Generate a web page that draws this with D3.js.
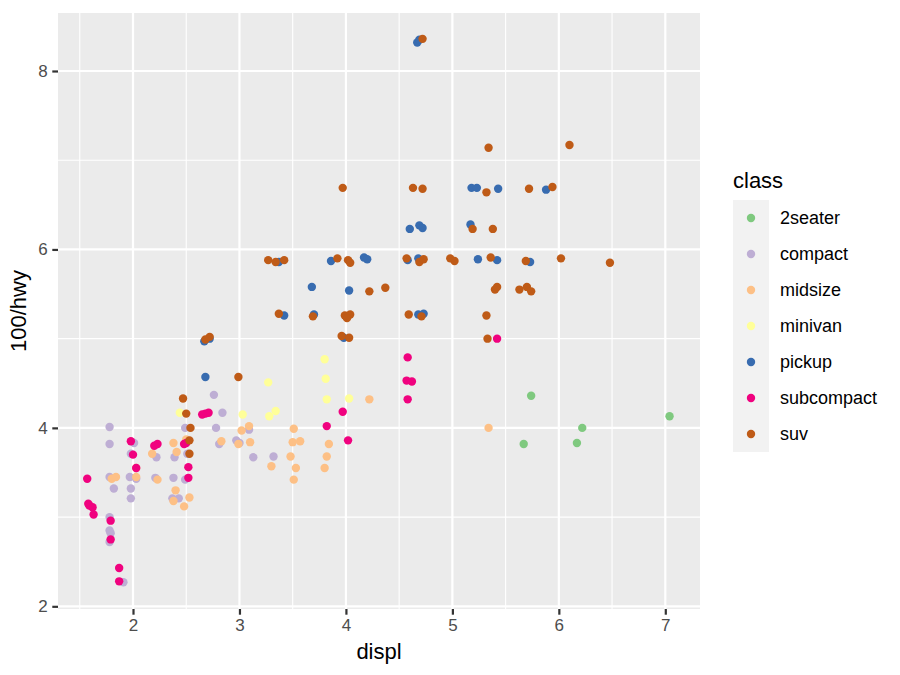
<!DOCTYPE html>
<html>
<head>
<meta charset="utf-8">
<script src="https://cdn.jsdelivr.net/npm/d3@7"></script>
<style>
  body { margin: 0; background: #fff; }
  text { font-family: "Liberation Sans", Arial, Helvetica, sans-serif; }
</style>
</head>
<body>
<svg id="chart" width="900" height="675"></svg>
<script>
// ---- data ----
const classes = ["2seater", "compact", "midsize", "minivan", "pickup", "subcompact", "suv"];
const colors = ["#7FC97F", "#BEAED4", "#FDC086", "#FFFF99", "#386CB0", "#F0027F", "#BF5B17"];

const displ_2seater = [5.74, 5.67, 6.22, 6.17, 7.04];
const y_2seater     = [4.36, 3.82, 4.00, 3.83, 4.13];

const displ_compact = [1.78,1.78,2.01,1.98,2.22,2.39,2.51,2.49,1.78,1.82,1.97,2.03,1.98,1.98,2.21,2.38,2.49,2.37,2.43,1.78,1.78,1.79,1.78,1.91,2.76,2.84,2.78,3.09,2.81,2.97,3.00,3.13,3.32];
const y_compact     = [4.01,3.82,3.83,3.71,3.67,3.67,3.71,4.00,3.45,3.32,3.45,3.43,3.32,3.21,3.44,3.44,3.42,3.21,3.21,3.00,2.85,2.82,2.72,2.27,4.37,4.17,4.00,3.98,3.82,3.86,3.83,3.67,3.68];

const displ_midsize = [2.38,2.18,2.41,2.50,1.80,1.84,2.03,2.03,2.23,2.40,2.38,2.53,2.48,3.02,3.09,2.83,2.99,3.10,3.30,3.51,3.50,3.57,3.48,3.53,3.51,3.84,3.82,3.80,4.22,5.34];
const y_midsize     = [3.83,3.71,3.73,3.87,3.43,3.45,3.55,3.45,3.42,3.30,3.18,3.22,3.12,3.97,4.02,3.85,3.82,3.84,3.57,3.99,3.84,3.85,3.68,3.55,3.42,3.82,3.68,3.55,4.32,4.00];

const displ_minivan = [2.44,3.03,3.27,3.28,3.34,3.80,3.81,3.82,4.03];
const y_minivan     = [4.17,4.15,4.51,4.13,4.19,4.77,4.55,4.32,4.33];

const displ_pickup = [2.68,2.67,2.72,3.37,3.86,4.17,4.20,3.68,4.03,3.42,3.70,3.98,4.58,4.68,5.24,5.42,5.73,4.68,4.73,5.18,5.23,5.43,5.88,5.17,4.60,4.69,4.72,4.67,4.69];
const y_pickup     = [4.57,4.97,5.00,5.86,5.87,5.91,5.89,5.58,5.54,5.26,5.27,5.01,5.88,5.90,5.89,5.88,5.86,5.27,5.28,6.69,6.69,6.68,6.67,6.28,6.23,6.27,6.24,8.32,8.35];

const displ_subcompact = [1.98,2.00,2.23,2.20,2.48,2.50,2.68,2.71,2.65,1.57,2.03,2.52,2.52,1.58,1.62,1.63,1.79,1.79,1.87,1.87,3.82,3.97,4.02,4.58,4.57,4.62,4.58,5.42,1.59];
const y_subcompact     = [3.85,3.70,3.82,3.80,3.82,3.83,4.16,4.17,4.15,3.43,3.55,3.56,3.44,3.15,3.11,3.03,2.96,2.75,2.43,2.28,4.02,4.18,3.86,4.79,4.53,4.52,4.32,5.00,3.13];

const displ_suv = [2.47,2.50,2.54,2.53,2.53,2.99,2.72,2.68,3.27,3.34,3.42,3.92,4.02,4.04,4.22,4.37,3.37,3.69,3.99,4.04,4.01,4.03,3.96,3.97,4.57,4.69,4.73,4.98,5.02,5.36,5.69,6.02,6.48,5.40,5.42,5.63,5.70,5.74,4.59,4.71,5.32,5.33,5.34,6.10,4.63,4.72,5.32,5.72,5.94,5.19,5.38,4.72];
const y_suv     = [4.33,4.16,4.00,3.86,3.71,4.57,5.02,4.99,5.88,5.86,5.88,5.90,5.88,5.85,5.53,5.57,5.28,5.25,5.26,5.27,5.23,5.01,5.03,6.69,5.90,5.86,5.89,5.90,5.87,5.91,5.87,5.90,5.85,5.55,5.58,5.55,5.58,5.53,5.27,5.25,5.26,5.00,7.14,7.17,6.69,6.68,6.64,6.68,6.70,6.23,6.23,8.36];

const xTicks = [2, 3, 4, 5, 6, 7];
const yTicks = [2, 4, 6, 8];
const xMinor = [1.5, 2.5, 3.5, 4.5, 5.5, 6.5];
const yMinor = [3, 5, 7];

const seriesX = [displ_2seater, displ_compact, displ_midsize, displ_minivan, displ_pickup, displ_subcompact, displ_suv];
const seriesY = [y_2seater, y_compact, y_midsize, y_minivan, y_pickup, y_subcompact, y_suv];

// ---- layout ----
const panel = { left: 58, right: 700, top: 13, bottom: 609 };
const svg = d3.select("#chart");

const x = d3.scaleLinear().domain([1.2955, 7.326]).range([panel.left, panel.right]);
const y = d3.scaleLinear().domain([1.97, 8.65]).range([panel.bottom, panel.top]);
const color = d3.scaleOrdinal().domain(classes).range(colors);

// panel background
svg.append("rect")
  .attr("x", panel.left).attr("y", panel.top)
  .attr("width", panel.right - panel.left).attr("height", panel.bottom - panel.top)
  .attr("fill", "#EBEBEB");

const grid = svg.append("g");
grid.selectAll(".xminor").data(xMinor).join("line")
  .attr("x1", d => x(d)).attr("x2", d => x(d))
  .attr("y1", panel.top).attr("y2", panel.bottom)
  .attr("stroke", "#fff").attr("stroke-width", 1.1);
grid.selectAll(".yminor").data(yMinor).join("line")
  .attr("y1", d => y(d)).attr("y2", d => y(d))
  .attr("x1", panel.left).attr("x2", panel.right)
  .attr("stroke", "#fff").attr("stroke-width", 1.1);
grid.selectAll(".xmajor").data(xTicks).join("line")
  .attr("x1", d => x(d)).attr("x2", d => x(d))
  .attr("y1", panel.top).attr("y2", panel.bottom)
  .attr("stroke", "#fff").attr("stroke-width", 2.2);
grid.selectAll(".ymajor").data(yTicks).join("line")
  .attr("y1", d => y(d)).attr("y2", d => y(d))
  .attr("x1", panel.left).attr("x2", panel.right)
  .attr("stroke", "#fff").attr("stroke-width", 2.2);

// points
const points = [];
classes.forEach((c, i) => {
  seriesX[i].forEach((v, j) => points.push({ cls: c, dx: v, dy: seriesY[i][j] }));
});
svg.append("g").selectAll("circle").data(points).join("circle")
  .attr("cx", d => x(d.dx)).attr("cy", d => y(d.dy))
  .attr("r", 4.2).attr("fill", d => color(d.cls));

// axes
const xAxis = d3.axisBottom(x).tickValues(xTicks).tickSize(5.7).tickPadding(4).tickFormat(d3.format("d"));
const gx = svg.append("g").attr("transform", `translate(0,${panel.bottom})`).call(xAxis);
gx.select(".domain").remove();
gx.selectAll("line").attr("stroke", "#333").attr("stroke-width", 2.2);
gx.selectAll("text").attr("fill", "#4D4D4D").style("font-size", "17px");

const yAxis = d3.axisLeft(y).tickValues(yTicks).tickSize(5.7).tickPadding(4.5).tickFormat(d3.format("d"));
const gy = svg.append("g").attr("transform", `translate(${panel.left},0)`).call(yAxis);
gy.select(".domain").remove();
gy.selectAll("line").attr("stroke", "#333").attr("stroke-width", 2.2);
gy.selectAll("text").attr("fill", "#4D4D4D").style("font-size", "17px");

// axis titles
svg.append("text")
  .attr("x", (panel.left + panel.right) / 2).attr("y", 659)
  .attr("text-anchor", "middle").style("font-size", "22px").attr("fill", "#000")
  .text("displ");
svg.append("text")
  .attr("transform", `translate(26,${(panel.top + panel.bottom) / 2}) rotate(-90)`)
  .attr("text-anchor", "middle").style("font-size", "22px").attr("fill", "#000")
  .text("100/hwy");

// legend
const lg = svg.append("g");
lg.append("text").attr("x", 733).attr("y", 188)
  .style("font-size", "22px").attr("fill", "#000").text("class");
const keyH = 36, keyTop = 200;
lg.append("rect").attr("x", 733).attr("y", keyTop)
  .attr("width", 36).attr("height", keyH * classes.length)
  .attr("fill", "#F2F2F2");
const items = lg.selectAll(".item").data(classes).join("g")
  .attr("transform", (d, i) => `translate(0,${keyTop + keyH * i + keyH / 2})`);
items.append("circle").attr("cx", 751).attr("cy", 0).attr("r", 4.2).attr("fill", d => color(d));
items.append("text").attr("x", 780).attr("y", 0).attr("dy", "0.35em")
  .style("font-size", "18px").attr("fill", "#000").text(d => d);
</script>
</body>
</html>
